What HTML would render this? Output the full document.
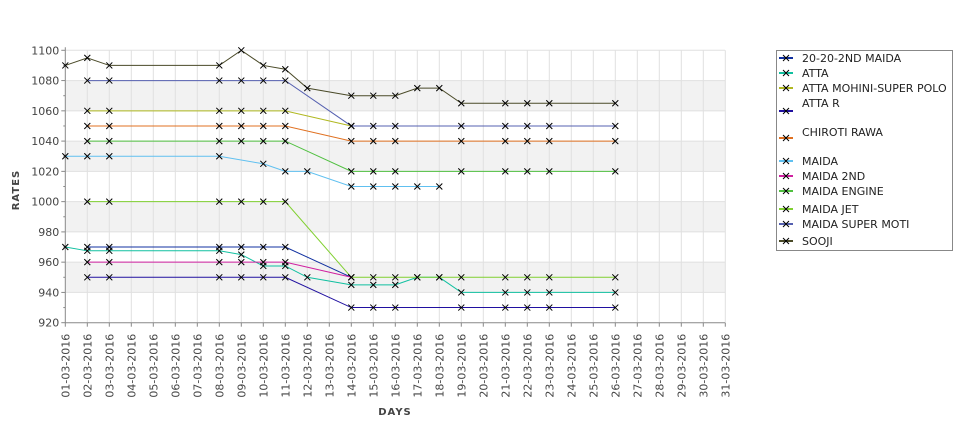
<!DOCTYPE html>
<html><head><meta charset="utf-8"><style>
body{margin:0;background:#fff;width:975px;height:429px;overflow:hidden}
svg text{font-family:"DejaVu Sans","Liberation Sans",sans-serif}
</style></head><body>
<svg id="s" width="975" height="429" xmlns="http://www.w3.org/2000/svg"></svg>
<script>
const s=document.getElementById('s');
let h='';
const X=d=>65.3+(d-1)*22, Y=v=>50.3+(1100-v)*1.5133;
const L=65.3,R=725,T=Y(1100),B=Y(920);
// bands
[[1080,1060],[1040,1020],[1000,980],[960,940]].forEach(([a,b])=>h+=`<rect x="${L}" y="${Y(a)}" width="${R-L}" height="${Y(b)-Y(a)}" fill="#f2f2f2"/>`);
for(let d=2;d<=31;d++)h+=`<line x1="${X(d)}" x2="${X(d)}" y1="${T}" y2="${B}" stroke="#e0e0e0"/>`;
for(let v=940;v<=1100;v+=20)h+=`<line x1="${L}" x2="${R}" y1="${Y(v)}" y2="${Y(v)}" stroke="#e0e0e0"/>`;
h+=`<line x1="${L}" x2="${L}" y1="${T-3}" y2="${B}" stroke="#888"/><line x1="${L}" x2="${R}" y1="${B}" y2="${B}" stroke="#888"/>`;
for(let v=920;v<=1100;v+=10){h+=`<line x1="${L-(v%20?2:4)}" x2="${L}" y1="${Y(v)}" y2="${Y(v)}" stroke="#888"/>`;if(v%20==0)h+=`<text x="${L-6}" y="${Y(v)+4}" font-size="11" fill="#444" text-anchor="end">${v}</text>`}
for(let d=1;d<=31;d++){h+=`<line x1="${X(d)}" x2="${X(d)}" y1="${B}" y2="${B+4}" stroke="#888"/>`;const dd=String(d).padStart(2,'0');h+=`<text transform="translate(${X(d)+4},${B+11}) rotate(-90)" font-size="11" fill="#444" text-anchor="end">${dd}-03-2016</text>`}
const S=[
['#1030a0',[[2,970],[3,970],[8,970],[9,970],[10,970],[11,970],[14,950]]],
['#10c0a0',[[1,970],[2,967.5],[3,967.5],[8,967.5],[9,965],[10,957.5],[11,957.5],[12,950],[14,945],[15,945],[16,945],[17,950],[18,950],[19,940],[21,940],[22,940],[23,940],[26,940]]],
['#b0b820',[[2,1060],[3,1060],[8,1060],[9,1060],[10,1060],[11,1060],[14,1050]]],
['#2010a0',[[2,950],[3,950],[8,950],[9,950],[10,950],[11,950],[14,930],[15,930],[16,930],[19,930],[21,930],[22,930],[23,930],[26,930]]],
['#e07020',[[2,1050],[3,1050],[8,1050],[9,1050],[10,1050],[11,1050],[14,1040],[15,1040],[16,1040],[19,1040],[21,1040],[22,1040],[23,1040],[26,1040]]],
['#60c0f0',[[1,1030],[2,1030],[3,1030],[8,1030],[10,1025],[11,1020],[12,1020],[14,1010],[15,1010],[16,1010],[17,1010],[18,1010]]],
['#d020a0',[[2,960],[3,960],[8,960],[9,960],[10,960],[11,960],[14,950]]],
['#50c040',[[2,1040],[3,1040],[8,1040],[9,1040],[10,1040],[11,1040],[14,1020],[15,1020],[16,1020],[19,1020],[21,1020],[22,1020],[23,1020],[26,1020]]],
['#80d030',[[2,1000],[3,1000],[8,1000],[9,1000],[10,1000],[11,1000],[14,950],[15,950],[16,950],[17,950],[18,950],[19,950],[21,950],[22,950],[23,950],[26,950]]],
['#5560b0',[[2,1080],[3,1080],[8,1080],[9,1080],[10,1080],[11,1080],[14,1050],[15,1050],[16,1050],[19,1050],[21,1050],[22,1050],[23,1050],[26,1050]]],
['#4a4a28',[[1,1090],[2,1095],[3,1090],[8,1090],[9,1100],[10,1090],[11,1087.5],[12,1075],[14,1070],[15,1070],[16,1070],[17,1075],[18,1075],[19,1065],[21,1065],[22,1065],[23,1065],[26,1065]]]];
const mk=(x,y)=>`<path d="M${x-3} ${y-3}L${x+3} ${y+3}M${x-3} ${y+3}L${x+3} ${y-3}" stroke="#000" stroke-width="1"/>`;
S.forEach(([c,p])=>{h+=`<polyline fill="none" stroke="${c}" stroke-width="1" points="${p.map(q=>X(q[0])+','+Y(q[1])).join(' ')}"/>`});
S.forEach(([c,p])=>p.forEach(q=>h+=mk(X(q[0]),Y(q[1]))));
h+=`<text transform="translate(19,190) rotate(-90)" font-size="10" font-weight="bold" fill="#444" text-anchor="middle" letter-spacing="1">RATES</text>`;
h+=`<text x="395" y="415" font-size="10" font-weight="bold" fill="#444" text-anchor="middle" letter-spacing="1">DAYS</text>`;
h+=`<rect x="776.5" y="50.5" width="176" height="200" fill="#fff" stroke="#888"/>`;
const lg=[['20-20-2ND MAIDA',62,58],['ATTA',77,73],['ATTA MOHINI-SUPER POLO',92,88],['ATTA R',107,111],['CHIROTI RAWA',136,138],['MAIDA',165,161],['MAIDA 2ND',180,176],['MAIDA ENGINE',195,191],['MAIDA JET',213,209],['MAIDA SUPER MOTI',228,224],['SOOJI',245,241]];
lg.forEach(([t,ty,my],i)=>{h+=`<line x1="779" x2="793" y1="${my}" y2="${my}" stroke="${S[i][0]}" stroke-width="2"/>`+mk(786,my)+`<text x="802" y="${ty}" font-size="11" fill="#222">${t}</text>`});
s.innerHTML=h;
</script>
</body></html>
